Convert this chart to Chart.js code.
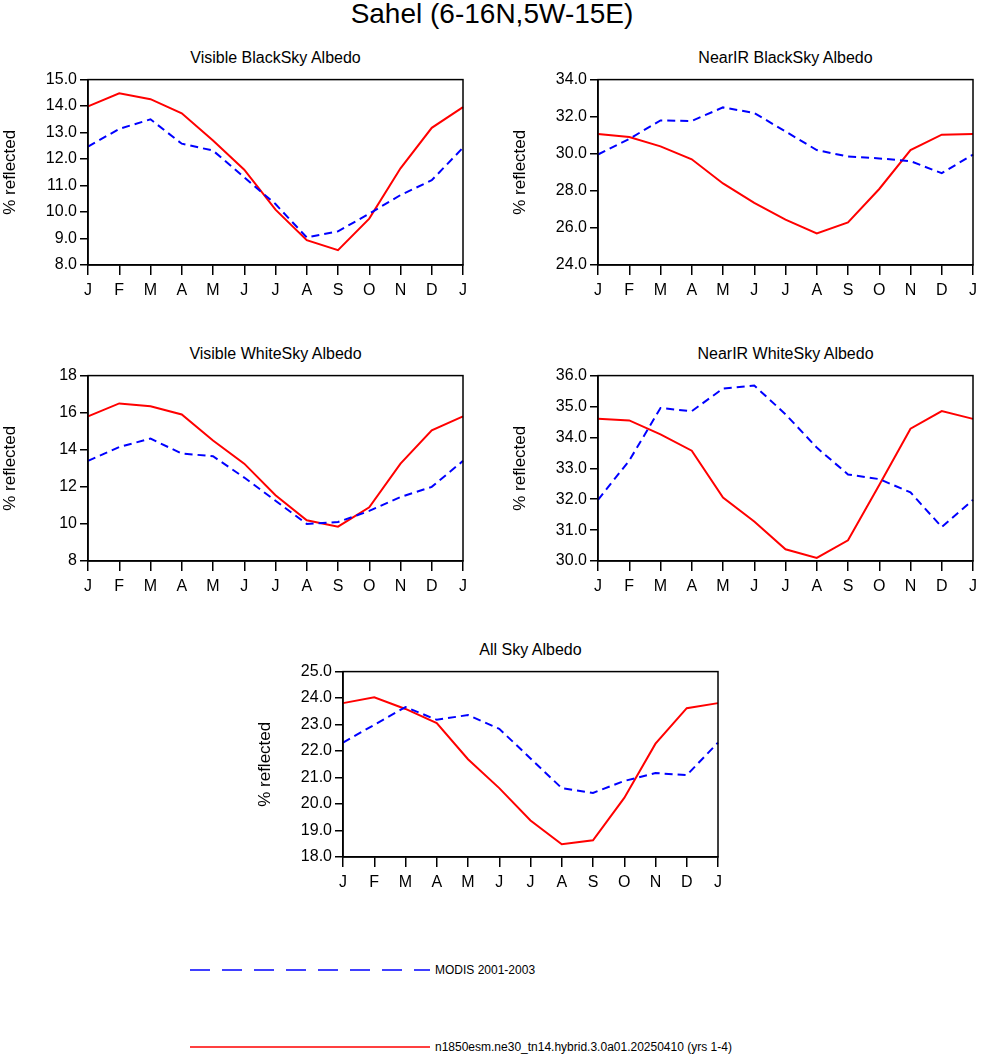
<!DOCTYPE html>
<html>
<head>
<meta charset="utf-8">
<script src="https://cdn.jsdelivr.net/npm/chart.js@4"></script>
<style>
  body { margin: 0; width: 984px; height: 1056px; background: #fff; position: relative; font-family: "Liberation Sans", Arial, sans-serif; }
  .t { position: absolute; text-align: center; color: #000; }
  .box { position: absolute; }
</style>
</head>
<body>
<div class="t" style="left:0;width:984px;top:-2px;font-size:28px;">Sahel (6-16N,5W-15E)</div>
<div id="panels"></div>
<svg class="box" style="left:190px;top:965px;" width="245" height="10"><line x1="0" y1="5" x2="240" y2="5" stroke="#0000ff" stroke-width="1.5" stroke-dasharray="20,12"/></svg>
<div class="t" style="left:435px;top:963px;font-size:12px;text-align:left;">MODIS 2001-2003</div>
<svg class="box" style="left:190px;top:1042px;" width="245" height="10"><line x1="0" y1="5" x2="240" y2="5" stroke="#ff0000" stroke-width="1.5"/></svg>
<div class="t" style="left:435px;top:1040px;font-size:12px;text-align:left;">n1850esm.ne30_tn14.hybrid.3.0a01.20250410 (yrs 1-4)</div>

<script>
const months = ['J', 'F', 'M', 'A', 'M', 'J', 'J', 'A', 'S', 'O', 'N', 'D', 'J'];

const visBlackModel = [13.99, 14.48, 14.26, 13.73, 12.7, 11.6, 10.09, 8.94, 8.56, 9.75, 11.65, 13.18, 13.96];
const visBlackModis = [12.47, 13.14, 13.5, 12.58, 12.32, 11.31, 10.3, 9.04, 9.27, 9.94, 10.64, 11.2, 12.43];

const nirBlackModel = [31.07, 30.9, 30.4, 29.7, 28.4, 27.35, 26.45, 25.7, 26.3, 28.1, 30.2, 31.03, 31.07];
const nirBlackModis = [29.96, 30.8, 31.8, 31.77, 32.5, 32.2, 31.2, 30.2, 29.85, 29.75, 29.6, 28.95, 29.96];

const visWhiteModel = [15.8, 16.5, 16.35, 15.9, 14.5, 13.25, 11.55, 10.2, 9.85, 10.9, 13.25, 15.05, 15.8];
const visWhiteModis = [13.4, 14.15, 14.6, 13.8, 13.65, 12.5, 11.25, 10.0, 10.1, 10.7, 11.45, 12.0, 13.4];

const nirWhiteModel = [34.6, 34.55, 34.1, 33.57, 32.05, 31.28, 30.38, 30.1, 30.67, 32.46, 34.28, 34.85, 34.6];
const nirWhiteModis = [31.98, 33.25, 34.95, 34.85, 35.58, 35.68, 34.75, 33.67, 32.8, 32.65, 32.22, 31.1, 31.98];

const allSkyModel = [23.81, 24.03, 23.59, 23.06, 21.69, 20.6, 19.38, 18.48, 18.63, 20.23, 22.28, 23.62, 23.81];
const allSkyModis = [22.32, 22.99, 23.66, 23.18, 23.36, 22.84, 21.72, 20.6, 20.42, 20.87, 21.17, 21.09, 22.32];

const panels = [
    { title: 'Visible BlackSky Albedo', left: 88, top: 77, min: 8, max: 15, step: 1, dec: 1, model: visBlackModel, modis: visBlackModis },
    { title: 'NearIR BlackSky Albedo', left: 598, top: 77, min: 24, max: 34, step: 2, dec: 1, model: nirBlackModel, modis: nirBlackModis },
    { title: 'Visible WhiteSky Albedo', left: 88, top: 373, min: 8, max: 18, step: 2, dec: 0, model: visWhiteModel, modis: visWhiteModis },
    { title: 'NearIR WhiteSky Albedo', left: 598, top: 373, min: 30, max: 36, step: 1, dec: 1, model: nirWhiteModel, modis: nirWhiteModis },
    { title: 'All Sky Albedo', left: 343, top: 669, min: 18, max: 25, step: 1, dec: 1, model: allSkyModel, modis: allSkyModis }
];

const W = 375, H = 188, YW = 88, XH = 40, PAD = 10;

const frame = {
    id: 'frame',
    afterDraw(chart) {
        const a = chart.chartArea, c = chart.ctx;
        c.save();
        c.strokeStyle = '#000';
        c.lineWidth = 1.5;
        c.strokeRect(a.left, a.top, a.right - a.left, a.bottom - a.top);
        c.restore();
    }
};

const holder = document.getElementById('panels');
panels.forEach(p => {
    const t = document.createElement('div');
    t.className = 't';
    t.style.cssText = `left:${p.left}px;width:${W}px;top:${p.top - 28}px;font-size:16px;`;
    t.textContent = p.title;
    holder.appendChild(t);

    const box = document.createElement('div');
    box.className = 'box';
    box.style.cssText = `left:${p.left - YW}px;top:${p.top - PAD}px;width:${W + YW + PAD}px;height:${H + PAD + XH}px;`;
    const cv = document.createElement('canvas');
    box.appendChild(cv);
    holder.appendChild(box);

    new Chart(cv.getContext('2d'), {
        type: 'line',
        data: {
            labels: months,
            datasets: [
                { data: p.modis, borderColor: '#0000ff', borderWidth: 2, borderDash: [8, 5], pointRadius: 0, tension: 0 },
                { data: p.model, borderColor: '#ff0000', borderWidth: 2, pointRadius: 0, tension: 0 }
            ]
        },
        options: {
            responsive: true,
            maintainAspectRatio: false,
            animation: false,
            layout: { padding: { top: PAD, right: PAD } },
            plugins: { legend: { display: false }, tooltip: { enabled: false } },
            scales: {
                x: {
                    type: 'category',
                    offset: false,
                    afterFit: s => { s.height = XH; },
                    grid: { drawOnChartArea: false, tickLength: 10, color: '#000', lineWidth: 1.5 },
                    border: { color: '#000', width: 1.5 },
                    ticks: { color: '#000', font: { size: 16, family: 'Liberation Sans' }, maxRotation: 0, autoSkip: false, padding: 6 }
                },
                y: {
                    min: p.min,
                    max: p.max,
                    afterFit: s => { s.width = YW; },
                    grid: { drawOnChartArea: false, tickLength: 8, color: '#000', lineWidth: 1.5 },
                    border: { color: '#000', width: 1.5 },
                    ticks: { stepSize: p.step, color: '#000', font: { size: 16, family: 'Liberation Sans' }, padding: 3,
                        callback: v => Number(v).toFixed(p.dec) },
                    title: { display: true, text: '% reflected', color: '#000', font: { size: 17, family: 'Liberation Sans' }, padding: 0 }
                }
            }
        },
        plugins: [frame]
    });
});
</script>
</body>
</html>
